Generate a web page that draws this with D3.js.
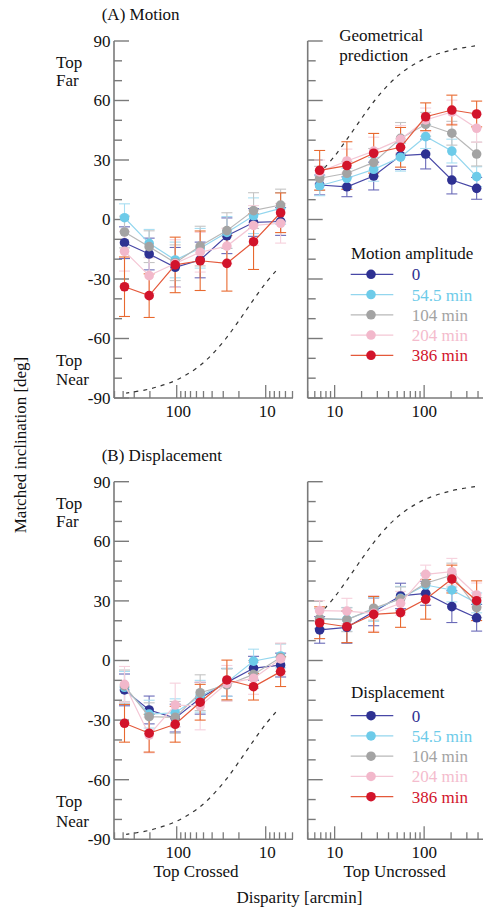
<!DOCTYPE html>
<html>
<head>
<meta charset="utf-8">
<script src="https://cdn.jsdelivr.net/npm/d3@7"></script>
<style>
  html, body { margin: 0; padding: 0; background: #fff; }
  svg { display: block; }
  svg text { font-family: "Liberation Serif", "Times New Roman", Times, "DejaVu Serif", serif; }
</style>
</head>
<body>
<svg id="chart" width="483" height="907"></svg>
<script>
// Disparities tested (arcmin), shared by crossed and uncrossed sides
const disparity = [6.8, 13.7, 27.3, 54.5, 104, 204, 386];
const amplitudeLabels = ["0", "54.5 min", "104 min", "204 min", "386 min"];

// Matched inclination [deg], one row per amplitude, columns follow `disparity`
const motionCrossed = [
  [-1.0, -1.5, -8.2, -20.4, -24.1, -17.4, -11.7],
  [5.6, 1.9, -6.5, -14.5, -20.4, -12.0, 0.9],
  [7.3, 4.5, -5.6, -13.4, -21.8, -13.7, -6.3],
  [-1.9, -3.0, -13.4, -16.5, -22.2, -28.3, -16.0],
  [3.4, -11.2, -22.1, -20.8, -22.9, -38.4, -33.9]
];
const motionCrossedErr = [
  [7, 7, 9, 9, 10, 8, 8],
  [8, 9, 8, 10, 9, 7, 7],
  [8, 9, 9, 10, 9, 8, 8],
  [10, 10, 9, 10, 12, 9, 10],
  [10, 14, 14, 15, 14, 11, 15]
];
const motionUncrossed = [
  [17.4, 16.5, 21.9, 32.2, 33.0, 19.9, 15.7],
  [17.0, 20.8, 25.3, 31.4, 41.8, 34.5, 21.6],
  [20.8, 23.3, 28.8, 40.9, 48.0, 43.5, 33.0],
  [24.0, 29.5, 34.5, 40.4, 50.2, 54.2, 46.0],
  [24.8, 27.2, 33.4, 36.4, 51.8, 55.2, 53.2]
];
const motionUncrossedErr = [
  [5, 5, 7, 7, 7.5, 7, 5.5],
  [5, 5, 6, 7, 6, 6, 5],
  [6, 6, 7, 8, 6, 6, 6],
  [6, 6, 7, 7, 6, 6, 7],
  [10, 12, 10, 10, 7, 7.5, 6.5]
];
const displacementCrossed = [
  [-2.3, -3.9, -11.0, -19.0, -29.0, -24.9, -14.8],
  [2.3, -0.3, -11.0, -18.0, -26.3, -27.0, -13.5],
  [1.5, -7.0, -12.3, -16.2, -28.6, -28.3, -12.8],
  [0.8, -9.0, -11.5, -22.9, -22.4, -37.5, -12.0],
  [-5.6, -13.2, -9.8, -21.0, -32.1, -36.6, -31.6]
];
const displacementCrossedErr = [
  [6, 6, 7, 8, 7, 7, 8],
  [6, 6, 7, 8, 7, 7, 8],
  [7, 7, 8, 9, 8, 7, 8],
  [8, 8, 9, 12, 11, 9, 9],
  [7.5, 6.7, 10, 9, 9, 9.5, 9.5]
];
const displacementUncrossed = [
  [15.4, 16.7, 24.5, 32.5, 33.8, 27.1, 21.5],
  [21.0, 20.7, 25.7, 31.3, 38.0, 35.5, 29.0],
  [21.2, 20.5, 26.3, 31.0, 38.9, 43.0, 26.6],
  [25.1, 24.9, 23.7, 28.8, 43.4, 44.7, 33.0],
  [19.0, 17.0, 23.2, 24.1, 30.8, 41.0, 30.1]
];
const displacementUncrossedErr = [
  [6.7, 8, 7, 6.4, 6, 8, 6.7],
  [5, 6, 6, 6, 5, 6, 5],
  [5, 6, 6, 6, 5, 6, 5],
  [5, 6.4, 9, 6, 4.6, 6.7, 6],
  [8, 8, 9, 7.4, 10, 7, 10]
];

// Geometrical prediction (magnitude of inclination, deg)
const geoDisparity = [7.7, 10, 14, 20, 28, 40, 56, 80, 110, 160, 230, 370];
const geoAngle = [26, 32, 41, 51, 60, 68, 74, 78.6, 81.7, 84.2, 86, 87.5];

const yTickValues = d3.range(-90, 91, 10);
const yTickLabels = ["-90", "-60", "-30", "0", "30", "60", "90"];

const markerColors = ["#2e3192", "#6dcbe9", "#a3a3a3", "#f2b8cb", "#d2142b"];
const lineColors = ["#4747a6", "#93d6ee", "#b8b8b8", "#f4c7d5", "#e4583a"];
const errColors = ["#6a6ab8", "#a8def2", "#c4c4c4", "#f6d0dc", "#e8692f"];
const legendTextColors = ["#2e3192", "#6dcbe9", "#a3a3a3", "#f4bccd", "#d2142b"];

const svg = d3.select("#chart");
const FONT = 17;
const SERIF = "Liberation Serif, Times New Roman, Times, DejaVu Serif, serif";
const axisColor = "#7a7a7a";

function label(sel, x, yy, t, opts = {}) {
  return sel.append("text").attr("x", x).attr("y", yy).attr("dy", "0.35em")
    .attr("font-family", SERIF).attr("font-size", FONT)
    .attr("text-anchor", opts.anchor || "start")
    .attr("fill", opts.fill || "#111").text(t);
}

const panels = [
  {
    title: "(A) Motion", top: 41, bottom: 398,
    crossed: motionCrossed, crossedErr: motionCrossedErr,
    uncrossed: motionUncrossed, uncrossedErr: motionUncrossedErr,
    legendTitle: "Motion amplitude", legendTitleY: 253, legendY0: 274.3,
    showGeoLabel: true
  },
  {
    title: "(B) Displacement", top: 481.7, bottom: 839.3,
    crossed: displacementCrossed, crossedErr: displacementCrossedErr,
    uncrossed: displacementUncrossed, uncrossedErr: displacementUncrossedErr,
    legendTitle: "Displacement", legendTitleY: 692.3, legendY0: 715.7,
    showGeoLabel: false
  }
];

const leftX0 = 114, leftX1 = 293;
const rightX0 = 307.7, rightX1 = 486.7;

panels.forEach(p => {
  const g = svg.append("g");
  const y = d3.scaleLinear().domain([-90, 90]).range([p.bottom, p.top]);
  const xL = d3.scaleLog().domain([500, 5]).range([leftX0 + 0.5, leftX1 - 0.5]);
  const xR = d3.scaleLog().domain([5, 500]).range([rightX0, rightX1]);

  // Panel title
  label(g, 101.7, p.top - 27, p.title);

  // Top Far / Top Near annotations
  label(g, 56, p.top + 21, "Top");
  label(g, 56, p.top + 39.5, "Far");
  label(g, 56, p.bottom - 38, "Top");
  label(g, 56, p.bottom - 18.5, "Near");

  // Y axes (left with labels, right unlabelled); ticks point inward
  [leftX0, rightX0].forEach((ax, i) => {
    g.append("line").attr("x1", ax).attr("x2", ax)
      .attr("y1", p.top).attr("y2", p.bottom)
      .attr("stroke", axisColor).attr("stroke-width", 1.6);
    yTickValues.forEach(v => {
      const major = v % 30 === 0;
      g.append("line").attr("x1", ax).attr("x2", ax + (major ? 15 : 8))
        .attr("y1", y(v)).attr("y2", y(v))
        .attr("stroke", axisColor).attr("stroke-width", 1.4);
    });
    if (i === 0) {
      yTickLabels.forEach(t => label(g, ax - 3.5, y(+t), t, { anchor: "end" }));
    }
  });

  // X axes (log); ticks point upward
  [[xL, leftX0, leftX1], [xR, rightX0, rightX1]].forEach(([xs, a0, a1]) => {
    g.append("line").attr("x1", a0).attr("x2", a1)
      .attr("y1", p.bottom).attr("y2", p.bottom)
      .attr("stroke", axisColor).attr("stroke-width", 1.6);
    xs.ticks().forEach(v => {
      const lg = Math.log10(v);
      const major = Math.abs(lg - Math.round(lg)) < 1e-9;
      g.append("line").attr("x1", xs(v)).attr("x2", xs(v))
        .attr("y1", p.bottom).attr("y2", p.bottom - (major ? 13 : 7))
        .attr("stroke", axisColor).attr("stroke-width", 1.3);
      if (major) {
        label(g, xs(v) + (xs === xL ? 1.5 : 0), p.bottom + 13, String(v), { anchor: "middle" });
      }
    });
  });

  // Geometrical prediction curves
  const geoLine = (xs, sign) => d3.line()
    .x((d, i) => xs(geoDisparity[i]))
    .y(d => y(sign * d))
    .curve(d3.curveCatmullRom)(geoAngle);
  [[xL, -1], [xR, 1]].forEach(([xs, s]) => {
    g.append("path").attr("d", geoLine(xs, s)).attr("fill", "none")
      .attr("stroke", "#333").attr("stroke-width", 1.2)
      .attr("stroke-dasharray", "4,5");
  });
  if (p.showGeoLabel) {
    label(g, 339.3, 35, "Geometrical");
    label(g, 339.3, 55, "prediction");
  }

  // Data: error bars first, then lines and markers per series
  const sides = [[xL, p.crossed, p.crossedErr], [xR, p.uncrossed, p.uncrossedErr]];
  sides.forEach(([xs, vals, errs]) => {
    vals.forEach((row, s) => {
      row.forEach((v, i) => {
        const cx = xs(disparity[i]);
        const e = errs[s][i];
        const col = errColors[s];
        g.append("line").attr("x1", cx).attr("x2", cx)
          .attr("y1", y(v - e)).attr("y2", y(v + e))
          .attr("stroke", col).attr("stroke-width", 1.1);
        [v - e, v + e].forEach(w => g.append("line")
          .attr("x1", cx - 5.5).attr("x2", cx + 5.5)
          .attr("y1", y(w)).attr("y2", y(w))
          .attr("stroke", col).attr("stroke-width", 1.1));
      });
    });
  });
  sides.forEach(([xs, vals]) => {
    vals.forEach((row, s) => {
      const line = d3.line().x((d, i) => xs(disparity[i])).y(d => y(d));
      g.append("path").attr("d", line(row)).attr("fill", "none")
        .attr("stroke", lineColors[s]).attr("stroke-width", 1.2);
      row.forEach((v, i) => {
        g.append("circle").attr("cx", xs(disparity[i])).attr("cy", y(v))
          .attr("r", 4.8).attr("fill", markerColors[s]);
      });
    });
  });

  // Legend
  label(g, 351, p.legendTitleY, p.legendTitle);
  amplitudeLabels.forEach((lab, s) => {
    const ly = p.legendY0 + s * 20.25;
    g.append("line").attr("x1", 350.7).attr("x2", 393.3).attr("y1", ly).attr("y2", ly)
      .attr("stroke", lineColors[s]).attr("stroke-width", 1.2);
    g.append("circle").attr("cx", 371).attr("cy", ly).attr("r", 4.8).attr("fill", markerColors[s]);
    label(g, 411.7, ly, lab, { fill: legendTextColors[s] });
  });
});

// Shared axis titles
svg.append("text").attr("transform", "translate(20,445) rotate(-90)")
  .attr("text-anchor", "middle").attr("dy", "0.35em").attr("font-family", SERIF)
  .attr("font-size", FONT).attr("fill", "#111").text("Matched inclination [deg]");
label(svg, 196, 871, "Top Crossed", { anchor: "middle" });
label(svg, 394.7, 870.7, "Top Uncrossed", { anchor: "middle" });
label(svg, 299.5, 896.7, "Disparity [arcmin]", { anchor: "middle" });
</script>
</body>
</html>
